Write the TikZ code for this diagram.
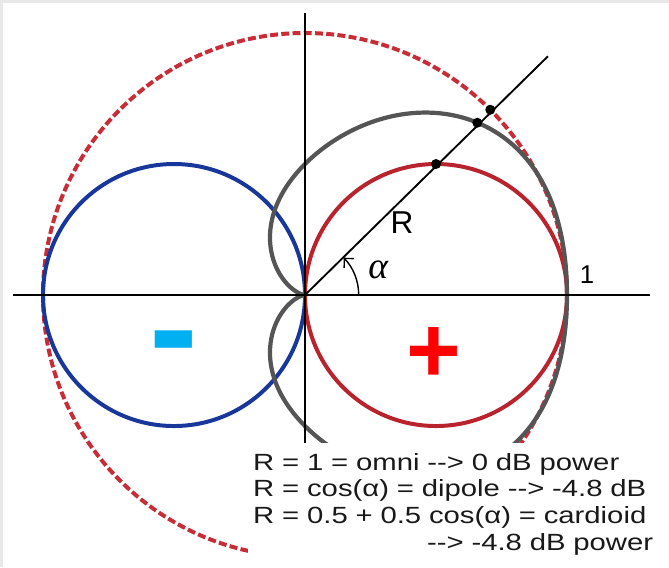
\documentclass[tikz,border=0pt]{standalone}
\usepackage{fontspec}
\newfontfamily\legendfont[FakeStretch=1.25]{Liberation Sans}
\newfontfamily\signfont{Liberation Sans}
\newfontfamily\handfont{Liberation Serif}
\usetikzlibrary{arrows.meta, positioning, calc}

\definecolor{dipblue}{RGB}{25,55,155}
\definecolor{dipred}{RGB}{185,35,45}
\definecolor{omnired}{RGB}{200,45,55}
\definecolor{cardgray}{RGB}{85,85,85}
\definecolor{minuscyan}{RGB}{0,176,240}
\definecolor{inkgray}{RGB}{25,25,25}
\newcommand{\arr}{\mbox{-}\mbox{-}>}

\begin{document}
\begin{tikzpicture}[x=7.86cm, y=7.86cm, >={Straight Barb[length=0.2cm]},
    dot/.style={circle, fill=black, inner sep=0pt, minimum size=0.3cm},
    lobe/.style={line width=3.4pt}]
    \useasboundingbox (-1.1641,-1.0382) rectangle (1.3893,1.1260);
    \fill[gray!18] (-1.1641,1.1260) rectangle (1.3893,1.1146);
    \fill[gray!18] (-1.1641,-1.0382) rectangle (-1.1527,1.1260);

    % patterns
    \draw[omnired, line width=3.4pt, dash pattern=on 6.8pt off 2.8pt] (0,0) circle (1);
    \draw[dipblue, lobe] (-0.5,0) circle (0.5);
    \draw[dipred, lobe] (0.5,0) circle (0.5);
    \draw[cardgray, line width=3.6pt] plot[domain=0:358, samples=180, smooth cycle]
        (\x:{(0.5+0.5*cos(\x))*(1+0.09*sin(2*\x)^2)});

    % axes
    \coordinate (O) at (0,0);
    \coordinate (xmin) at (-1.115,0);
    \coordinate (xmax) at (1.317,0);
    \coordinate (ymax) at (0,1.076);
    \coordinate (ymin) at (0,-0.9);
    \coordinate (rayend) at (44.5:1.3);
    \draw[line width=2.2pt] (xmin) -- (xmax);
    \draw[line width=1.8pt] (ymin) -- (ymax);
    \draw[line width=1.6pt] (O) -- (rayend);
    \draw[->, line width=1.2pt] (0.205,0) arc[start angle=0, end angle=44, radius=0.205];

    \node[dot] (pdip) at (45:0.7071) {};
    \node[dot] (pcard) at (45:0.930) {};
    \node[dot] (pomni) at (45:1) {};

    \node[font=\signfont\fontsize{27pt}{27pt}\selectfont] (lblR) at (0.370,0.275) {R};
    \node[font=\handfont\itshape\fontsize{32pt}{32pt}\selectfont] (lblalpha) at (0.279,0.095) {α};
    \node[font=\signfont\fontsize{22pt}{22pt}\selectfont] (lblone) at (1.076,0.076) {1};

    \node[text=red, inner sep=0pt, font=\signfont\bfseries\fontsize{80pt}{80pt}\selectfont] (plus) at (0.492,-0.229) {+};
    \node[text=minuscyan, inner sep=0pt, font=\signfont\bfseries\fontsize{125pt}{125pt}\selectfont] (minus) at (-0.5,-0.226) {-};

    \node[fill=white, text=inkgray, anchor=north west, inner xsep=0.15cm, inner ysep=0.3cm,
        text width=12cm, align=left, font=\legendfont\fontsize{20pt}{22.8pt}\selectfont]
        (legend) at (-0.2176,-0.565)
        {R = 1 = omni \arr{} 0 dB power\\
         R = cos(α) = dipole \arr{} -4.8 dB\\
         R = 0.5 + 0.5 cos(α) = cardioid\\
         \hfill\arr{} -4.8 dB power};
\end{tikzpicture}
\end{document}
